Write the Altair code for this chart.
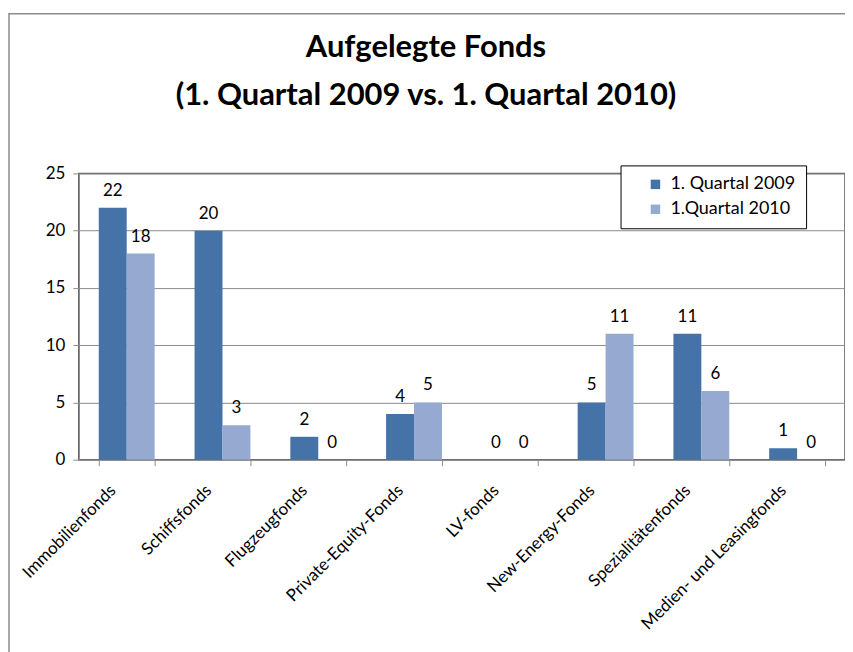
import altair as alt
import pandas as pd

categories = ["Immobilienfonds", "Schiffsfonds", "Flugzeugfonds", "Private-Equity-Fonds",
              "LV-fonds", "New-Energy-Fonds", "Spezialitätenfonds", "Medien- und Leasingfonds"]
series = ["1. Quartal 2009", "1.Quartal 2010"]
q2009 = [22, 20, 2, 4, 0, 5, 11, 1]
q2010 = [18, 3, 0, 5, 0, 11, 6, 0]
colors = ["#4572A7", "#96A9D1"]

rows = []
for c, a, b in zip(categories, q2009, q2010):
    rows.append({"Kategorie": c, "Serie": series[0], "Wert": a})
    rows.append({"Kategorie": c, "Serie": series[1], "Wert": b})
df = pd.DataFrame(rows)

FONT = "Lato"

x_enc = alt.X("Kategorie:N", sort=categories, title=None,
              scale=alt.Scale(paddingInner=0.4167, paddingOuter=0.2083),
              axis=alt.Axis(labelAngle=-45, labelAlign="right", labelBaseline="middle",
                            labelFontSize=17, labelFont=FONT, labelColor="#000000",
                            labelPadding=22, labelOffset=-14, tickBand="extent", tickSize=6,
                            tickColor="#8c8c8c", domainColor="#8c8c8c", labelLimit=300))
xo = alt.XOffset("Serie:N", sort=series, scale=alt.Scale(paddingInner=0, paddingOuter=0))
y_enc = alt.Y("Wert:Q", title=None,
              scale=alt.Scale(domain=[0, 25], nice=False),
              axis=alt.Axis(values=[0, 5, 10, 15, 20, 25], labelFontSize=17, labelFont=FONT,
                            labelColor="#000000", tickSize=6, tickColor="#8c8c8c",
                            domainColor="#8c8c8c", gridColor="#8c8c8c", labelPadding=8))

bars = alt.Chart(df).mark_bar().encode(
    x=x_enc, xOffset=xo, y=y_enc,
    color=alt.Color("Serie:N", sort=series,
                    scale=alt.Scale(domain=series, range=colors),
                    legend=alt.Legend(title=None, orient="none", legendX=543, legendY=-8,
                                      strokeColor="#000000", fillColor="#ffffff",
                                      padding=10, symbolOffset=16, symbolType="square",
                                      symbolSize=90, labelFontSize=18, labelFont=FONT,
                                      labelColor="#000000", rowPadding=7, cornerRadius=0,
                                      symbolStrokeWidth=0, labelOffset=6)),
)

labels = alt.Chart(df).mark_text(baseline="bottom", dy=-8, fontSize=17, font=FONT,
                                 color="#000000").encode(
    x=alt.X("Kategorie:N", sort=categories), xOffset=xo, y="Wert:Q", text="Wert:Q")

frame = alt.Chart(pd.DataFrame({"a": [0]})).mark_rect(
    filled=False, stroke="#8c8c8c", strokeWidth=1.5, clip=False).encode(
    x=alt.value(-70), x2=alt.value(790), y=alt.value(-160), y2=alt.value(560))

chart = alt.layer(frame, bars, labels).properties(
    width=768, height=287,
    padding={"left": 71, "top": 165, "right": 0, "bottom": 200},
    autosize=alt.AutoSizeParams(type="none"),
    title=alt.TitleParams(["Aufgelegte Fonds", "(1. Quartal 2009 vs. 1. Quartal 2010)"],
                          font=FONT, fontSize=31, fontWeight="bold", color="#000000",
                          anchor="middle", frame="group", dx=-36, offset=-99, lineHeight=48),
).configure_view(stroke="#555555", strokeWidth=1.5).configure_axis(grid=False).configure_axisY(grid=True)

chart.save("out.html", embed_options={"renderer": "svg", "actions": False})
